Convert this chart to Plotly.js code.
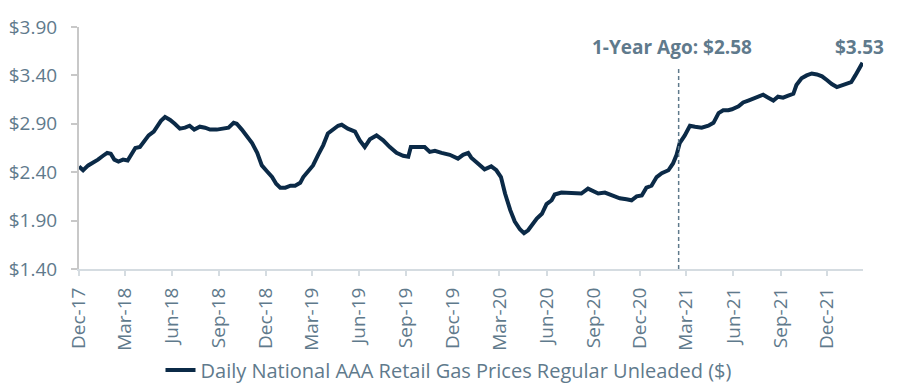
<!DOCTYPE html>
<html>
<head>
<meta charset="utf-8">
<script src="https://cdn.plot.ly/plotly-3.0.1.min.js"></script>
<style>
  html, body { margin: 0; padding: 0; background: #ffffff; }
  #chart { width: 898px; height: 392px; }
</style>
</head>
<body>
<div id="chart"></div>
<script>
// ---- Data ----
const dates = [
  '2017-12-01','2017-12-09','2017-12-19','2017-12-29','2018-01-07','2018-01-17','2018-01-25','2018-02-01',
  '2018-02-08','2018-02-16','2018-02-25','2018-03-06','2018-03-14','2018-03-21','2018-03-30','2018-04-08',
  '2018-04-16','2018-04-26','2018-05-03','2018-05-10','2018-05-18','2018-05-28','2018-06-06','2018-06-16',
  '2018-06-26','2018-07-05','2018-07-14','2018-07-25','2018-08-04','2018-08-14','2018-08-27','2018-09-09',
  '2018-09-19','2018-09-29','2018-10-05','2018-10-15','2018-10-25','2018-11-04','2018-11-14','2018-11-23',
  '2018-12-03','2018-12-13','2018-12-21','2018-12-29','2019-01-08','2019-01-18','2019-01-27','2019-02-06',
  '2019-02-12','2019-02-22','2019-03-03','2019-03-13','2019-03-23','2019-04-01','2019-04-11','2019-04-21',
  '2019-04-28','2019-05-10','2019-05-24','2019-06-02','2019-06-12','2019-06-22','2019-07-05','2019-07-18',
  '2019-07-31','2019-08-13','2019-08-26','2019-09-05','2019-09-10','2019-09-21','2019-10-02','2019-10-07',
  '2019-10-17','2019-10-27','2019-11-09','2019-11-25','2019-12-11','2019-12-21','2019-12-31','2020-01-06',
  '2020-01-19','2020-02-01','2020-02-14','2020-02-24','2020-03-04','2020-03-12','2020-03-22','2020-03-31',
  '2020-04-10','2020-04-18','2020-04-26','2020-05-03','2020-05-13','2020-05-23','2020-06-01','2020-06-11',
  '2020-06-17','2020-06-30','2020-07-13','2020-07-26','2020-08-08','2020-08-21','2020-08-31','2020-09-10',
  '2020-09-23','2020-10-09','2020-10-22','2020-11-04','2020-11-14','2020-11-24','2020-12-04','2020-12-13',
  '2020-12-23','2021-01-02','2021-01-12','2021-01-25','2021-02-03','2021-02-10','2021-02-16','2021-02-26',
  '2021-03-08','2021-03-18','2021-03-31','2021-04-13','2021-04-23','2021-05-03','2021-05-12','2021-05-22',
  '2021-05-29','2021-06-11','2021-06-20','2021-06-30','2021-07-10','2021-07-19','2021-07-29','2021-08-08',
  '2021-08-18','2021-08-27','2021-09-06','2021-09-16','2021-09-26','2021-10-02','2021-10-12','2021-10-22',
  '2021-11-01','2021-11-11','2021-11-21','2021-12-01','2021-12-10','2021-12-20','2021-12-30','2022-01-08',
  '2022-01-17','2022-01-25','2022-02-02','2022-02-08'
];
const prices = [
  2.46,2.42,2.47,2.50,2.53,2.57,2.60,2.59,
  2.53,2.51,2.53,2.52,2.58,2.65,2.66,2.73,
  2.78,2.82,2.88,2.93,2.97,2.94,2.90,2.85,
  2.86,2.88,2.84,2.87,2.86,2.84,2.84,2.85,
  2.86,2.91,2.90,2.84,2.77,2.70,2.60,2.47,
  2.41,2.35,2.28,2.24,2.24,2.26,2.26,2.29,
  2.35,2.41,2.47,2.58,2.68,2.80,2.84,2.88,
  2.89,2.85,2.82,2.73,2.66,2.74,2.78,2.73,
  2.66,2.60,2.57,2.56,2.66,2.66,2.65,2.66,
  2.61,2.62,2.60,2.58,2.54,2.58,2.60,2.55,
  2.49,2.43,2.46,2.42,2.35,2.18,2.01,1.89,
  1.81,1.77,1.80,1.85,1.92,1.97,2.07,2.11,
  2.17,2.19,2.19,2.18,2.18,2.23,2.20,2.18,
  2.19,2.16,2.13,2.12,2.11,2.15,2.16,2.24,
  2.26,2.35,2.39,2.42,2.49,2.58,2.70,2.78,
  2.88,2.87,2.86,2.88,2.91,3.01,3.04,3.04,
  3.05,3.08,3.12,3.14,3.16,3.18,3.20,3.17,
  3.14,3.18,3.17,3.19,3.21,3.30,3.37,3.40,
  3.42,3.41,3.39,3.35,3.31,3.28,3.30,3.31,
  3.33,3.40,3.47,3.53
];
const seriesName = 'Daily National AAA Retail Gas Prices Regular Unleaded ($)';
const oneYearAgoDate = '2021-02-14';
const oneYearAgoValue = 2.58;
const xRange = ['2017-12-01', '2022-02-09'];
const yTicks = [1.40, 1.90, 2.40, 2.90, 3.40, 3.90];

// ---- Styling ----
const labelColor = '#5F7A8C';
const lineColor = '#0B2A47';
const fontFamily = '"Open Sans", Lato, sans-serif';
const lastValue = prices[prices.length - 1];

const trace = {
  x: dates,
  y: prices,
  type: 'scatter',
  mode: 'lines',
  name: seriesName,
  line: { color: lineColor, width: 4 }
};

const layout = {
  width: 898,
  height: 392,
  margin: { l: 79, r: 35, t: 27, b: 123 },
  paper_bgcolor: '#ffffff',
  plot_bgcolor: '#ffffff',
  font: { family: fontFamily, color: labelColor, size: 18 },
  showlegend: true,
  legend: {
    orientation: 'h',
    xref: 'container', yref: 'container',
    x: 0.5, xanchor: 'center',
    y: 0.056, yanchor: 'middle',
    font: { size: 20, color: labelColor, family: fontFamily },
    bgcolor: 'rgba(0,0,0,0)'
  },
  xaxis: {
    type: 'date',
    range: xRange,
    tick0: '2017-12-01',
    dtick: 'M3',
    tickformat: '%b-%y',
    tickangle: -90,
    ticks: 'outside',
    ticklen: 5,
    tickcolor: '#D5DCE1',
    tickwidth: 2,
    showline: true,
    linecolor: '#D5DCE1',
    linewidth: 2,
    showgrid: false,
    zeroline: false,
    automargin: false,
    ticklabelstandoff: 4,
    tickfont: { size: 19, color: labelColor, family: fontFamily }
  },
  yaxis: {
    range: [1.40, 3.90],
    tickvals: yTicks,
    tickformat: '$.2f',
    ticks: 'outside',
    ticklen: 6,
    tickcolor: '#C8C8C8',
    tickwidth: 2,
    showline: true,
    linecolor: '#C8C8C8',
    linewidth: 2,
    showgrid: false,
    zeroline: false,
    automargin: false,
    ticklabelstandoff: 10,
    tickfont: { size: 19, color: labelColor, family: fontFamily }
  },
  shapes: [{
    type: 'line',
    xref: 'x', yref: 'paper',
    x0: oneYearAgoDate, x1: oneYearAgoDate,
    y0: 0, y1: 0.826,
    line: { color: labelColor, width: 1.5, dash: '4px,3px' }
  }],
  annotations: [
    {
      xref: 'paper', yref: 'paper',
      x: 0.756, y: 0.919,
      xanchor: 'center', yanchor: 'middle',
      text: '<b>1-Year Ago: $' + oneYearAgoValue.toFixed(2) + '</b>',
      showarrow: false,
      font: { size: 19, color: labelColor, family: fontFamily }
    },
    {
      xref: 'paper', yref: 'paper',
      x: 0.995, y: 0.919,
      xanchor: 'center', yanchor: 'middle',
      text: '<b>$' + lastValue.toFixed(2) + '</b>',
      showarrow: false,
      font: { size: 19, color: labelColor, family: fontFamily }
    }
  ]
};

Plotly.newPlot('chart', [trace], layout, { displayModeBar: false, staticPlot: true });
</script>
</body>
</html>
